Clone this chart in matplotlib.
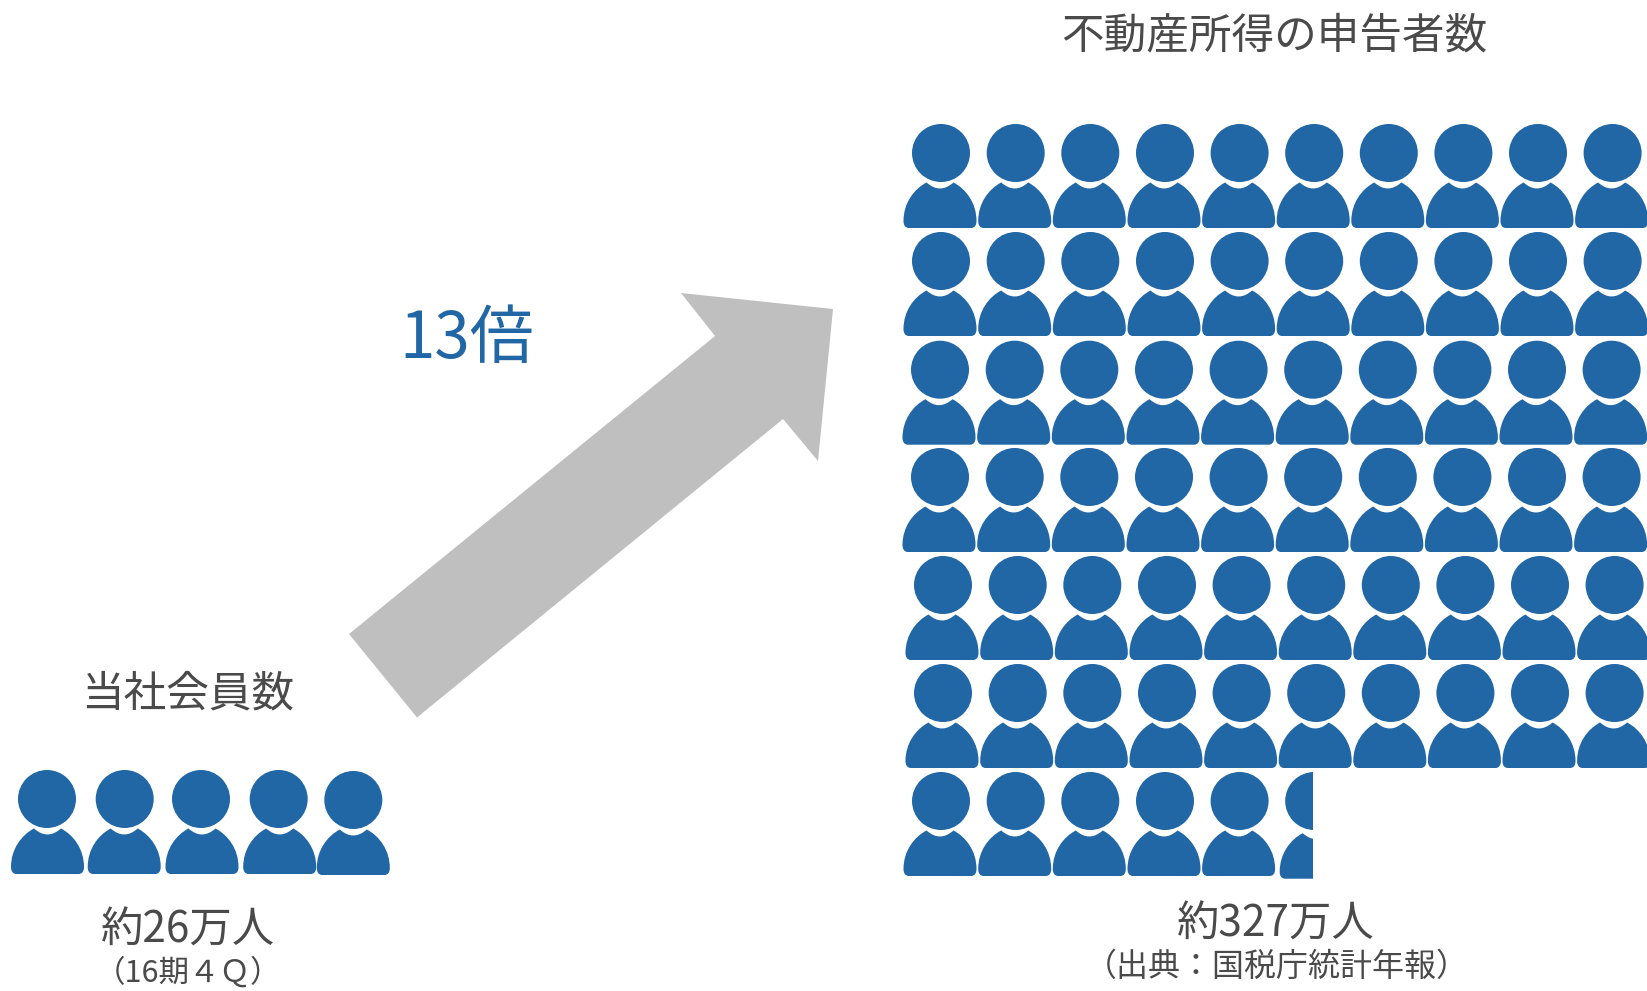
"""
People pictogram: members vs. real-estate income filers.
"""

import matplotlib
matplotlib.use('Agg')
import matplotlib.pyplot as plt
from matplotlib.patches import Circle, PathPatch, Polygon, Rectangle
from matplotlib.path import Path

plt.rcParams['font.family'] = ['Noto Sans CJK JP', 'DejaVu Sans']

BLUE = '#2166a5'
TEXT = '#4a4a4a'

# head centres of the left group
member_x = [47, 124.7, 201, 278.7, 353.3]
member_y = [799, 799, 799, 799, 800]
member_body_shift = [1.5, 0.5, 2, 2, 1]

# head centres of the right grid, top row first
filer_cols = [941, 1015.7, 1090.3, 1165, 1239.6, 1314.2, 1388.8, 1463.4, 1538, 1612.6]
filer_rows = [153, 261, 369.7, 477, 585, 693, 801]
filer_shift = [0, 0, -1, -1, 2, 2, 0]
filer_counts = [10, 10, 10, 10, 10, 10, 6]
last_row_clip = 1313  # the sixth person of the last row is cut off here

arrow_x = [349, 417, 783, 818, 833, 681, 715]
arrow_y = [634, 717.5, 419, 461, 309, 293, 336]


def draw_person(ax, cx, cy, body_dx=0, body_dy=0, clip_right=None):
    """Draw one person icon around its head centre."""
    head = Circle((cx, cy), 29, fc=BLUE, ec='none')
    verts = [(-32, 75), (-35.5, 75), (-37.5, 72.5), (-37.5, 68),
             (-37.5, 50), (-27, 36), (-14.5, 29.5),
             (-1, 41.5), (12.5, 29.5),
             (25, 36), (35.5, 50), (35.5, 68),
             (35.5, 72.5), (33.5, 75), (30, 75),
             (-32, 75)]
    codes = [Path.MOVETO, Path.CURVE4, Path.CURVE4, Path.CURVE4,
             Path.CURVE4, Path.CURVE4, Path.CURVE4,
             Path.CURVE3, Path.CURVE3,
             Path.CURVE4, Path.CURVE4, Path.CURVE4,
             Path.CURVE4, Path.CURVE4, Path.CURVE4,
             Path.CLOSEPOLY]
    body_verts = [(cx + body_dx + x, cy + body_dy + y) for x, y in verts]
    body = PathPatch(Path(body_verts, codes), fc=BLUE, ec='none')
    for part in (head, body):
        ax.add_patch(part)
        if clip_right is not None:
            part.set_clip_path(Rectangle((cx - 60, cy - 60), clip_right - cx + 60, 160,
                                         transform=ax.transData))


fig = plt.figure(figsize=(16.47, 9.91), dpi=100, facecolor='white')
ax = fig.add_axes([0, 0, 1, 1])
ax.set_xlim(0, 1647)
ax.set_ylim(991, 0)
ax.axis('off')

ax.add_patch(Polygon(list(zip(arrow_x, arrow_y)), closed=True, fc='#bfbfbf', ec='none'))

for x, y, dx in zip(member_x, member_y, member_body_shift):
    draw_person(ax, x, y, body_dx=dx)

for row, (y, shift, count) in enumerate(zip(filer_rows, filer_shift, filer_counts)):
    for col in range(count):
        if row == 6 and col == 5:
            draw_person(ax, filer_cols[col] + shift, y, body_dx=3, body_dy=2.7,
                        clip_right=last_row_clip)
        else:
            draw_person(ax, filer_cols[col] + shift, y)

ax.text(1274, 36, '不動産所得の申告者数', fontsize=30.7, color=TEXT, ha='center', va='center')
ax.text(188, 694, '当社会員数', fontsize=30.7, color=TEXT, ha='center', va='center')
ax.text(188, 931, '約26万人', fontsize=30.5, color=TEXT, ha='center', va='center')
ax.text(188, 973, '（16期４Ｑ）', fontsize=22, color=TEXT, ha='center', va='center')
ax.text(1276, 925, '約327万人', fontsize=30.5, color=TEXT, ha='center', va='center')
ax.text(1277, 967, '（出典：国税庁統計年報）', fontsize=23, color=TEXT, ha='center', va='center')
ax.text(467, 340, '13倍', fontsize=46, color=BLUE, ha='center', va='center')

fig.savefig('out.png', dpi=100)
